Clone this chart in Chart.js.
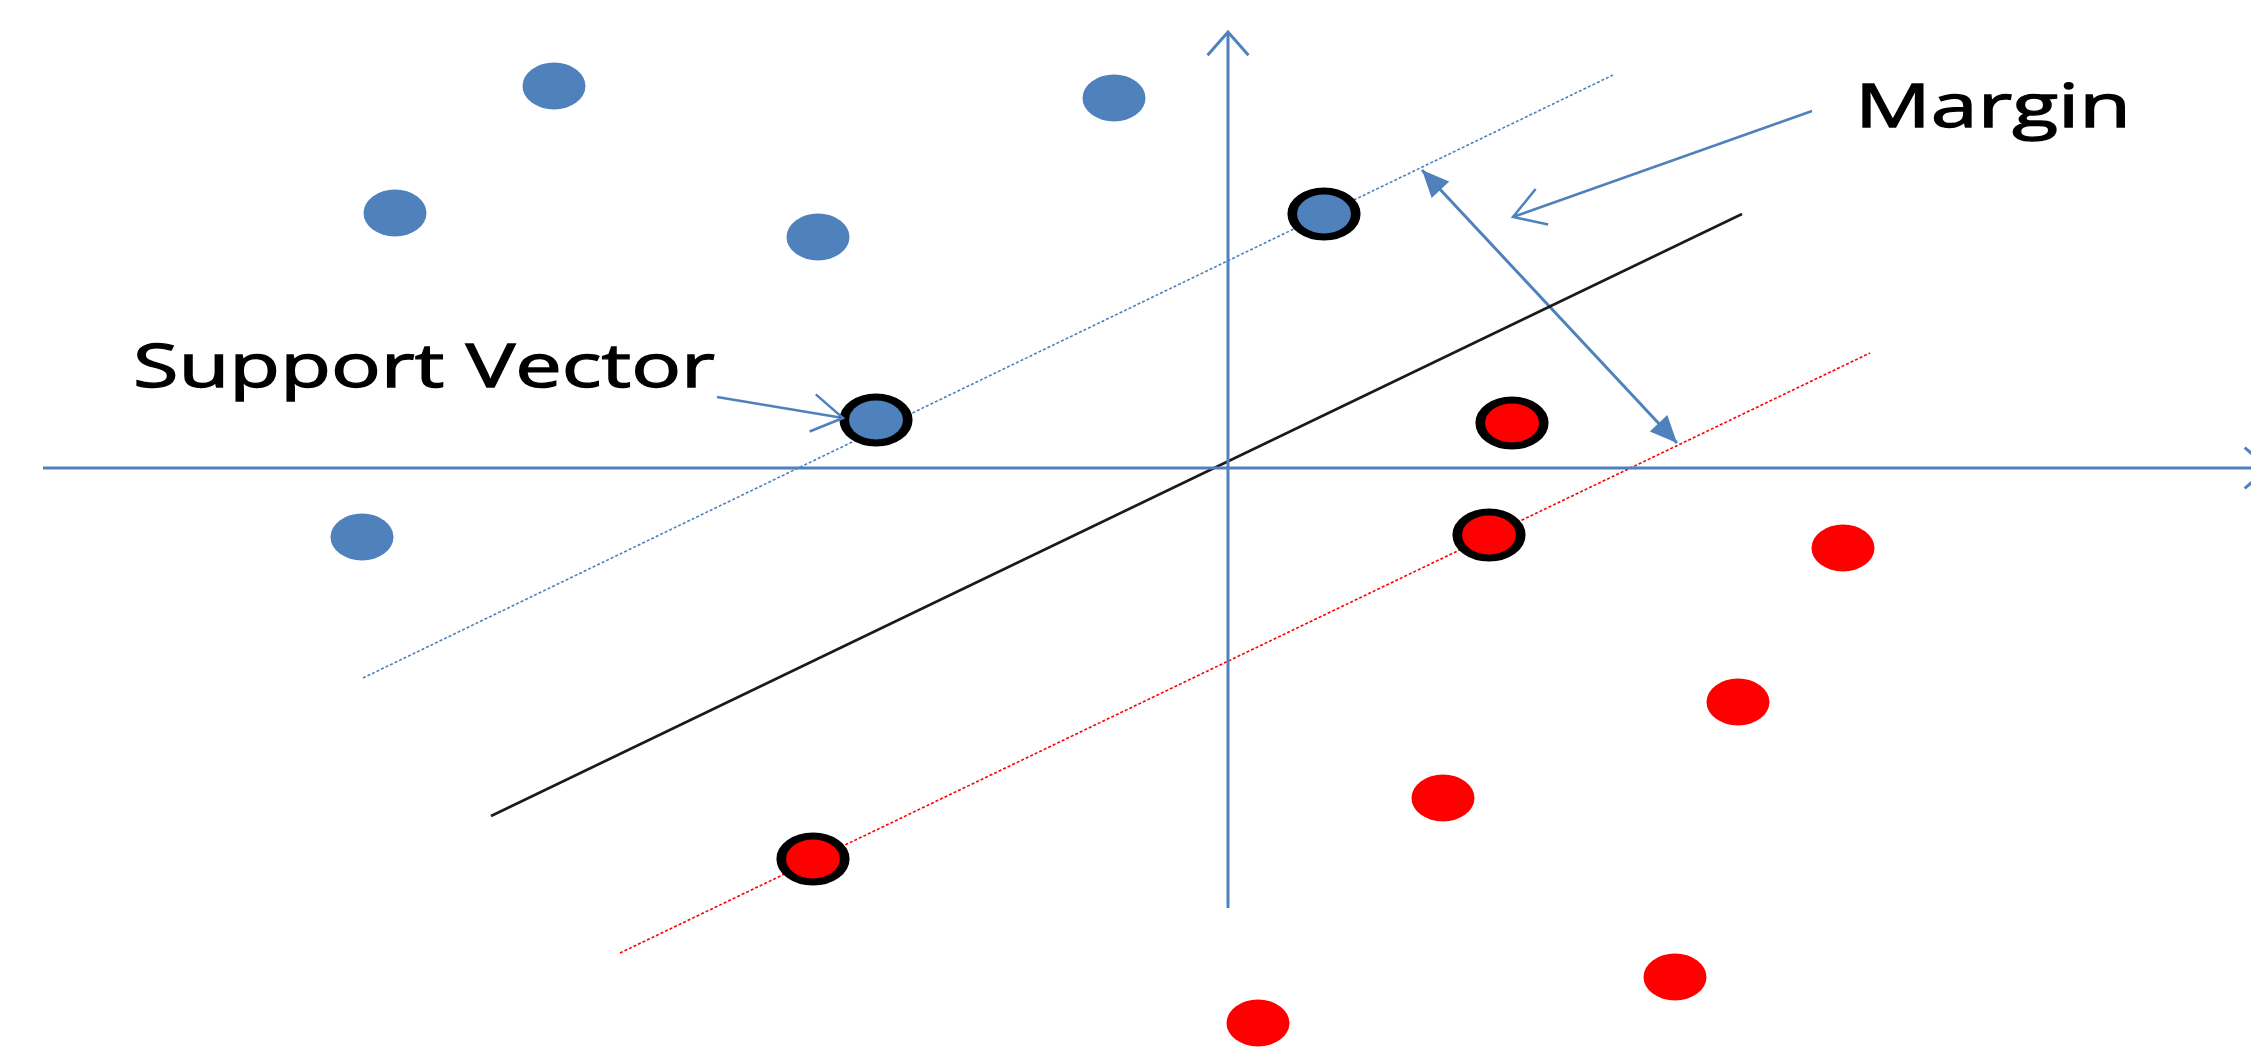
<!DOCTYPE html>
<html>
<head>
<meta charset="utf-8">
<script src="https://cdn.jsdelivr.net/npm/chart.js@4/dist/chart.umd.min.js"></script>
<style>
  html, body { margin: 0; padding: 0; background: #fff; overflow: hidden; }
  canvas { display: block; }
</style>
</head>
<body>
<canvas id="svmChart" width="2251" height="1047"></canvas>
<script>
// points, origin at the axes crossing
const bluePoints = [[-6.74, 3.82], [-1.14, 3.70], [-8.33, 2.55], [-4.10, 2.31], [-8.66, -0.69]];
const blueSupport = [[-3.52, 0.48], [0.96, 2.54]];
const redSupport = [[2.84, 0.45], [2.61, -0.67], [-4.15, -3.91]];
const redPoints = [[6.15, -0.80], [5.10, -2.34], [2.15, -3.30], [4.47, -5.09], [0.30, -5.55]];

// lines
const upperMargin = [[-8.65, -2.10], [3.85, 3.93]];
const hyperplane = [[-7.37, -3.48], [5.14, 2.54]];
const lowerMargin = [[-6.08, -4.85], [6.42, 1.15]];
const xAxisLine = [[-11.85, 0], [10.40, 0]];
const yAxisLine = [[0, -4.40], [0, 4.36]];
const marginArrow = [[1.94, 2.98], [4.49, 0.25]];
const marginPointer = [[5.84, 3.57], [2.85, 2.51]];
const supportPointer = [[-5.11, 0.71], [-3.85, 0.50]];

const labelTexts = ['Margin', 'Support Vector'];
const labelX = [6.27, -10.95];
const labelY = [3.41, 0.81];

const BLUE = '#4F81BD';
const RED = '#FF0000';

function toXY(pairs) {
    return pairs.map(([x, y]) => ({ x: x, y: y }));
}

// the original picture is stretched sideways, so markers are ellipses
function ellipseMarker(fill, ring) {
    const c = document.createElement('canvas');
    c.width = 80;
    c.height = 58;
    const g = c.getContext('2d');
    g.translate(40, 29);
    g.scale(ring ? 1.38 : 1.34, 1);
    g.beginPath();
    g.arc(0, 0, ring ? 23 : 23.5, 0, Math.PI * 2);
    g.fillStyle = fill;
    g.fill();
    if (ring) {
        g.lineWidth = 7;
        g.strokeStyle = '#000';
        g.stroke();
    }
    return c;
}

function lineSet(pairs, color, width, extra) {
    return Object.assign({
        data: toXY(pairs),
        showLine: true,
        borderColor: color,
        borderWidth: width,
        pointRadius: 0,
        fill: false,
        clip: false,
        order: 2
    }, extra || {});
}

function pointSet(pairs, marker) {
    return {
        data: toXY(pairs),
        pointStyle: marker,
        pointRadius: 30,
        showLine: false,
        clip: false,
        order: 0
    };
}

function drawHead(ctx, from, to, kind, color) {
    const ang = Math.atan2(to.y - from.y, to.x - from.x);
    ctx.save();
    ctx.translate(to.x, to.y);
    ctx.rotate(ang);
    ctx.strokeStyle = color;
    ctx.fillStyle = color;
    if (kind === 'filled') {
        ctx.beginPath();
        ctx.moveTo(0, 0);
        ctx.lineTo(-27, -12);
        ctx.lineTo(-27, 12);
        ctx.closePath();
        ctx.fill();
    } else {
        const len = kind === 'axis' ? 31 : 36;
        const spread = kind === 'axis' ? 0.72 : 0.55;
        ctx.lineWidth = kind === 'axis' ? 3 : 2.5;
        ctx.beginPath();
        ctx.moveTo(-len * Math.cos(spread), -len * Math.sin(spread));
        ctx.lineTo(0, 0);
        ctx.lineTo(-len * Math.cos(spread), len * Math.sin(spread));
        ctx.stroke();
    }
    ctx.restore();
}

const arrowPlugin = {
    id: 'arrows',
    afterDatasetsDraw(chart) {
        const ctx = chart.ctx;
        chart.data.datasets.forEach((ds, i) => {
            if (!ds.heads) return;
            const pts = chart.getDatasetMeta(i).data;
            const a = pts[0], b = pts[pts.length - 1];
            if (ds.heads.end) drawHead(ctx, a, b, ds.heads.end, ds.borderColor);
            if (ds.heads.start) drawHead(ctx, b, a, ds.heads.start, ds.borderColor);
        });
    }
};

// the label widths match the stretched text of the original
const labelWidths = [276, 582];

const labelPlugin = {
    id: 'labels',
    afterDraw(chart) {
        const ctx = chart.ctx;
        const xs = chart.scales.x, ys = chart.scales.y;
        ctx.save();
        ctx.font = '61px "Open Sans", Lato, sans-serif';
        ctx.fillStyle = '#000';
        ctx.strokeStyle = '#000';
        ctx.lineWidth = 1.3;
        ctx.textBaseline = 'alphabetic';
        labelTexts.forEach((t, i) => {
            const w = ctx.measureText(t).width;
            ctx.save();
            ctx.translate(xs.getPixelForValue(labelX[i]), ys.getPixelForValue(labelY[i]));
            ctx.scale(labelWidths[i] / w, 1);
            ctx.fillText(t, 0, 0);
            ctx.strokeText(t, 0, 0);
            ctx.restore();
        });
        ctx.restore();
    }
};

const ctx = document.getElementById('svmChart').getContext('2d');
new Chart(ctx, {
    type: 'scatter',
    data: {
        datasets: [
            pointSet(bluePoints, ellipseMarker(BLUE, false)),
            pointSet(blueSupport, ellipseMarker(BLUE, true)),
            pointSet(redPoints, ellipseMarker(RED, false)),
            pointSet(redSupport, ellipseMarker(RED, true)),
            lineSet(xAxisLine, BLUE, 3, { heads: { end: 'axis' } }),
            lineSet(yAxisLine, BLUE, 3, { heads: { end: 'axis' } }),
            lineSet(upperMargin, BLUE, 1.6, { borderDash: [3, 2] }),
            lineSet(lowerMargin, RED, 1.6, { borderDash: [3, 2] }),
            lineSet(hyperplane, '#1a1a1a', 2.5),
            lineSet(marginArrow, BLUE, 3, { heads: { start: 'filled', end: 'filled' } }),
            lineSet(marginPointer, BLUE, 2.5, { heads: { end: 'open' } }),
            lineSet(supportPointer, BLUE, 2.5, { heads: { end: 'open' } })
        ]
    },
    options: {
        responsive: false,
        animation: false,
        layout: { padding: 0, autoPadding: false },
        plugins: {
            legend: { display: false },
            tooltip: { enabled: false }
        },
        scales: {
            x: { type: 'linear', display: false, min: -12.28, max: 10.23 },
            y: { type: 'linear', display: false, min: -5.79, max: 4.68 }
        }
    },
    plugins: [arrowPlugin, labelPlugin]
});
</script>
</body>
</html>
